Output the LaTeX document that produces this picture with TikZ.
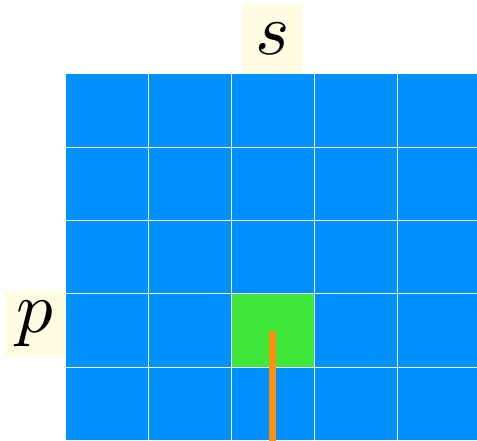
\documentclass[tikz,border=0pt]{standalone}
\usepackage{graphicx}
\usetikzlibrary{positioning}

\definecolor{cellblue}{HTML}{0091FF}
\definecolor{hitgreen}{HTML}{40E83C}
\definecolor{rayorange}{HTML}{FF9112}
\definecolor{lblyellow}{HTML}{FFFCE1}

\newcommand{\biglbl}[1]{\scalebox{7.3}{$#1$}}

\begin{document}
\begin{tikzpicture}[
	x=1pt, y=-1pt,
	cell/.style={
		draw=white,
		line width=1pt,
		fill=cellblue,
		minimum width=83pt,
		minimum height=73.3pt,
		inner sep=0pt,
	},
	hit/.style={cell, fill=hitgreen},
	lbl/.style={
		fill=lblyellow,
		inner sep=0pt,
	},
	ray/.style={rayorange, line width=7pt},
]

\useasboundingbox (0,0) rectangle (477,441);

% --- Mřížka ---
\foreach \i in {1,...,5}
	\foreach \j in {1,...,5}
		\node[cell] (c\i\j) at ({65+83*(\i-0.5)},{74+73.3*(\j-0.5)}) {};

% --- Zásah ---
\node[hit] (c34) at ({65+83*2.5},{74+73.3*3.5}) {};

% --- Popisky ---
\node[lbl, minimum width=61pt, minimum height=69pt] (s) at (272.5,38.5) {\biglbl{s}};
\node[lbl, minimum width=60pt, minimum height=66pt] (p) at (35,324) {\biglbl{p}};

% --- Paprsek ---
\draw[ray] (c34.center) -- (c35.south);

\end{tikzpicture}
\end{document}
